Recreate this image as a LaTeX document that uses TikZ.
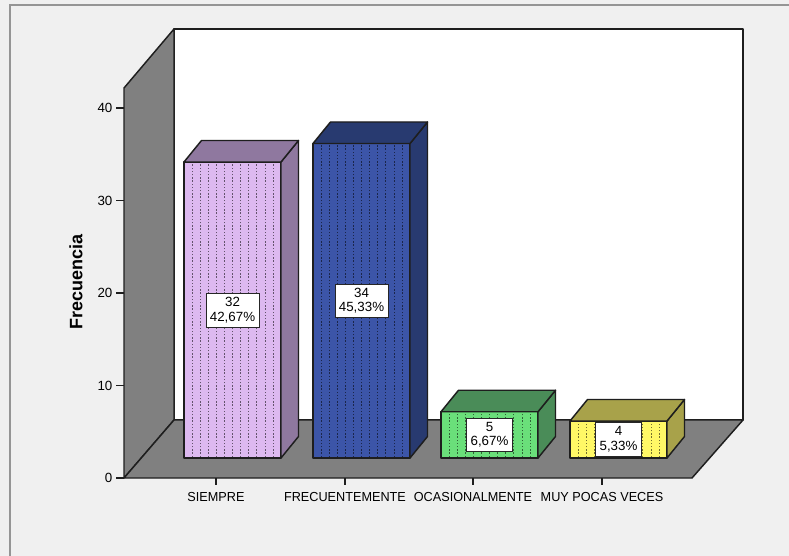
\documentclass[tikz,border=0pt]{standalone}
\usepackage{fontspec}
\setmainfont{Liberation Sans}

\definecolor{panel}{HTML}{F0F0F0}
\definecolor{framegray}{HTML}{959595}
\definecolor{wallgray}{HTML}{808080}
\definecolor{edge}{HTML}{1E1E1E}
\definecolor{siempreF}{HTML}{DDB9F0}
\definecolor{siempreS}{HTML}{8F789F}
\definecolor{frecF}{HTML}{3C55A8}
\definecolor{frecS}{HTML}{283A70}
\definecolor{ocasF}{HTML}{6ADF7A}
\definecolor{ocasS}{HTML}{4A8C58}
\definecolor{muyF}{HTML}{FFF866}
\definecolor{muyS}{HTML}{A8A24A}

\tikzset{
	outline/.style={draw=edge, line width=1.1pt, line join=round},
	valbox/.style={draw=black!85, fill=white, align=center, inner sep=3pt, font=\fontsize{10}{11}\selectfont},
	catlabel/.style={font=\fontsize{9.8}{11}\selectfont, xscale=0.97},
	ticklabel/.style={anchor=east, inner sep=1pt, font=\fontsize{10}{11}\selectfont}
}

\begin{document}
\begin{tikzpicture}[x=0.75pt, y=-0.75pt]
	\useasboundingbox (0,0) rectangle (789,556);
	% background
	\fill [panel] (0,0) rectangle (789,556);
	\draw [framegray, line width=1.5pt] (10,556) -- (10,5.5) -- (789,5.5);
	% walls and floor
	\filldraw [fill=white, outline] (174,29) rectangle (743,420);
	\filldraw [fill=wallgray, outline] (124,478) -- (124,88) -- (174,29) -- (174,420) -- cycle;
	\filldraw [fill=wallgray, outline] (124,478) -- (692,478) -- (743,420) -- (174,420) -- cycle;
	% bars
	\foreach \xl/\val/\fc/\sc/\pct [count=\i] in {184/32/siempreF/siempreS/{42,67\%}, 313/34/frecF/frecS/{45,33\%}, 441/5/ocasF/ocasS/{6,67\%}, 570/4/muyF/muyS/{5,33\%}}{
		\pgfmathsetmacro\yt{458-\val*9.25}
		\fill [\fc] (\xl,458) rectangle ({\xl+97},\yt);
		\foreach \k in {1,...,11}
			\draw [\fc!45!black, line width=0.75pt, dash pattern=on 1pt off 1.4pt] ({\xl+\k*8.1},457) -- ({\xl+\k*8.1},{\yt+1});
		\draw [outline] (\xl,458) rectangle ({\xl+97},\yt);
		\filldraw [fill=\sc, outline] ({\xl+97},458) -- ({\xl+114.5},436.5) -- ({\xl+114.5},{\yt-21.5}) -- ({\xl+97},\yt) -- cycle;
		\filldraw [fill=\sc, outline] (\xl,\yt) -- ({\xl+17.5},{\yt-21.5}) -- ({\xl+114.5},{\yt-21.5}) -- ({\xl+97},\yt) -- cycle;
		\node [valbox] (v\i) at ({\xl+48.5},{(458+\yt)/2}) {\val\\\pct};
		\draw [edge, line width=1pt] ({\xl+32},478) -- ({\xl+32},485);
	}
	% axis
	\foreach \v in {0,10,20,30,40}{
		\draw [edge, line width=1pt] (116,{478-\v*9.25}) -- (124,{478-\v*9.25});
		\node [ticklabel] (t\v) at (114,{478-\v*9.25}) {\v};
	}
	% labels
	\node [catlabel] (siempre) at (216,496.5) {SIEMPRE};
	\node [catlabel] (frecuente) at (345,496.5) {FRECUENTEMENTE};
	\node [catlabel] (ocasional) at (473,496.5) {OCASIONALMENTE};
	\node [catlabel] (muypocas) at (602,496.5) {MUY POCAS VECES};
	\node [rotate=90, font=\bfseries\fontsize{13.5}{15}\selectfont] (ylabel) at (76,282) {Frecuencia};
\end{tikzpicture}
\end{document}
